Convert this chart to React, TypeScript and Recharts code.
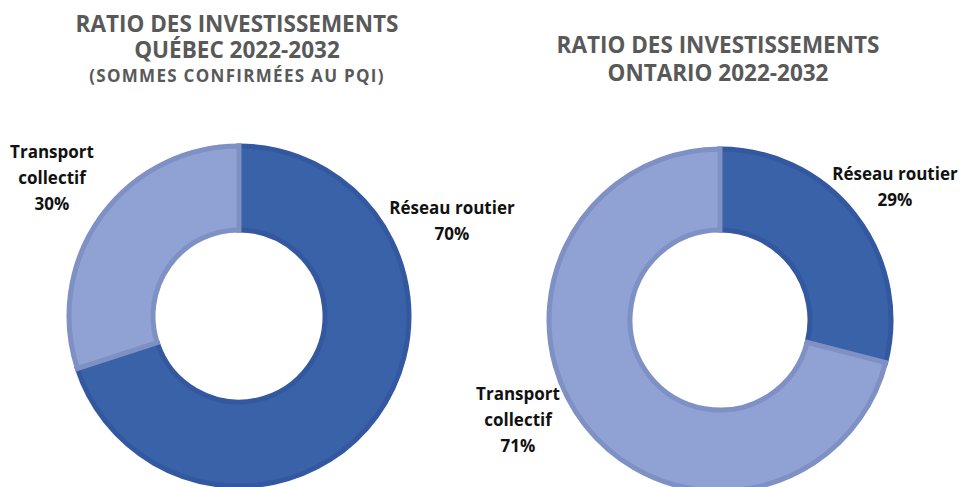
import { PieChart, Pie, Cell } from "recharts";

// categories & values
const categories = ["Réseau routier", "Transport collectif"];
const quebecValues = [70, 30];
const ontarioValues = [29, 71];

const quebecData = categories.map((name, i) => ({ name, value: quebecValues[i] }));
const ontarioData = categories.map((name, i) => ({ name, value: ontarioValues[i] }));

const FILLS = ["#3a62a9", "#8fa2d3"];
const STROKES = ["#3358a0", "#7e90c4"];

const FONT = "'Open Sans', 'DejaVu Sans', sans-serif";

// label anchor offsets from the donut centre (same order as categories)
const quebecLabelPos = [
  { dx: 213, dy: -102 },
  { dx: -187, dy: -158 },
];
const ontarioLabelPos = [
  { dx: 175, dy: -140 },
  { dx: -202, dy: 80 },
];

function splitName(name: string) {
  return name === "Transport collectif" ? ["Transport", "collectif"] : [name];
}

function makeLabel(pos: { dx: number; dy: number }[]) {
  return (props: any) => {
    const { cx, cy, index, name, value } = props;
    const p = pos[index];
    const x = cx + p.dx;
    const y = cy + p.dy;
    const lines = [...splitName(name), `${value}%`];
    return (
      <text
        x={x}
        y={y}
        textAnchor="middle"
        fill="#111"
        fontFamily={FONT}
        fontWeight={700}
        fontSize={17}
      >
        {lines.map((l, i) => (
          <tspan key={i} x={x} dy={i === 0 ? 0 : 26}>
            {l}
          </tspan>
        ))}
      </text>
    );
  };
}

const titleStyle: React.CSSProperties = {
  position: "absolute",
  width: 470,
  textAlign: "center",
  fontFamily: FONT,
  fontWeight: 700,
  color: "#595959",
  fontSize: 22.5,
  lineHeight: "26px",
};

export default function App() {
  return (
    <div style={{ position: "relative", width: 958, height: 479, background: "#fff" }}>
      <div style={{ ...titleStyle, left: -6, top: 3 }}>
        <div>RATIO DES INVESTISSEMENTS</div>
        <div>QUÉBEC 2022-2032</div>
        <div style={{ fontSize: 17, letterSpacing: 1.3 }}>(SOMMES CONFIRMÉES AU PQI)</div>
      </div>
      <div style={{ ...titleStyle, left: 475, top: 24 }}>
        <div>RATIO DES INVESTISSEMENTS</div>
        <div style={{ marginTop: 2 }}>ONTARIO 2022-2032</div>
      </div>
      <PieChart
        width={958}
        height={479}
        margin={{ top: 0, right: 0, bottom: 0, left: 0 }}
        style={{ position: "absolute", left: 0, top: 0, overflow: "visible" }}
      >
        <Pie
          data={quebecData}
          dataKey="value"
          nameKey="name"
          cx={231}
          cy={308}
          innerRadius={86}
          outerRadius={170}
          startAngle={90}
          endAngle={-270}
          label={makeLabel(quebecLabelPos)}
          labelLine={false}
          isAnimationActive={false}
        >
          {quebecData.map((_, i) => (
            <Cell key={i} fill={FILLS[i]} stroke={STROKES[i]} strokeWidth={5} />
          ))}
        </Pie>
        <Pie
          data={ontarioData}
          dataKey="value"
          nameKey="name"
          cx={712}
          cy={312}
          innerRadius={90}
          outerRadius={171}
          startAngle={90}
          endAngle={-270}
          label={makeLabel(ontarioLabelPos)}
          labelLine={false}
          isAnimationActive={false}
        >
          {ontarioData.map((_, i) => (
            <Cell key={i} fill={FILLS[i]} stroke={STROKES[i]} strokeWidth={5} />
          ))}
        </Pie>
      </PieChart>
    </div>
  );
}
